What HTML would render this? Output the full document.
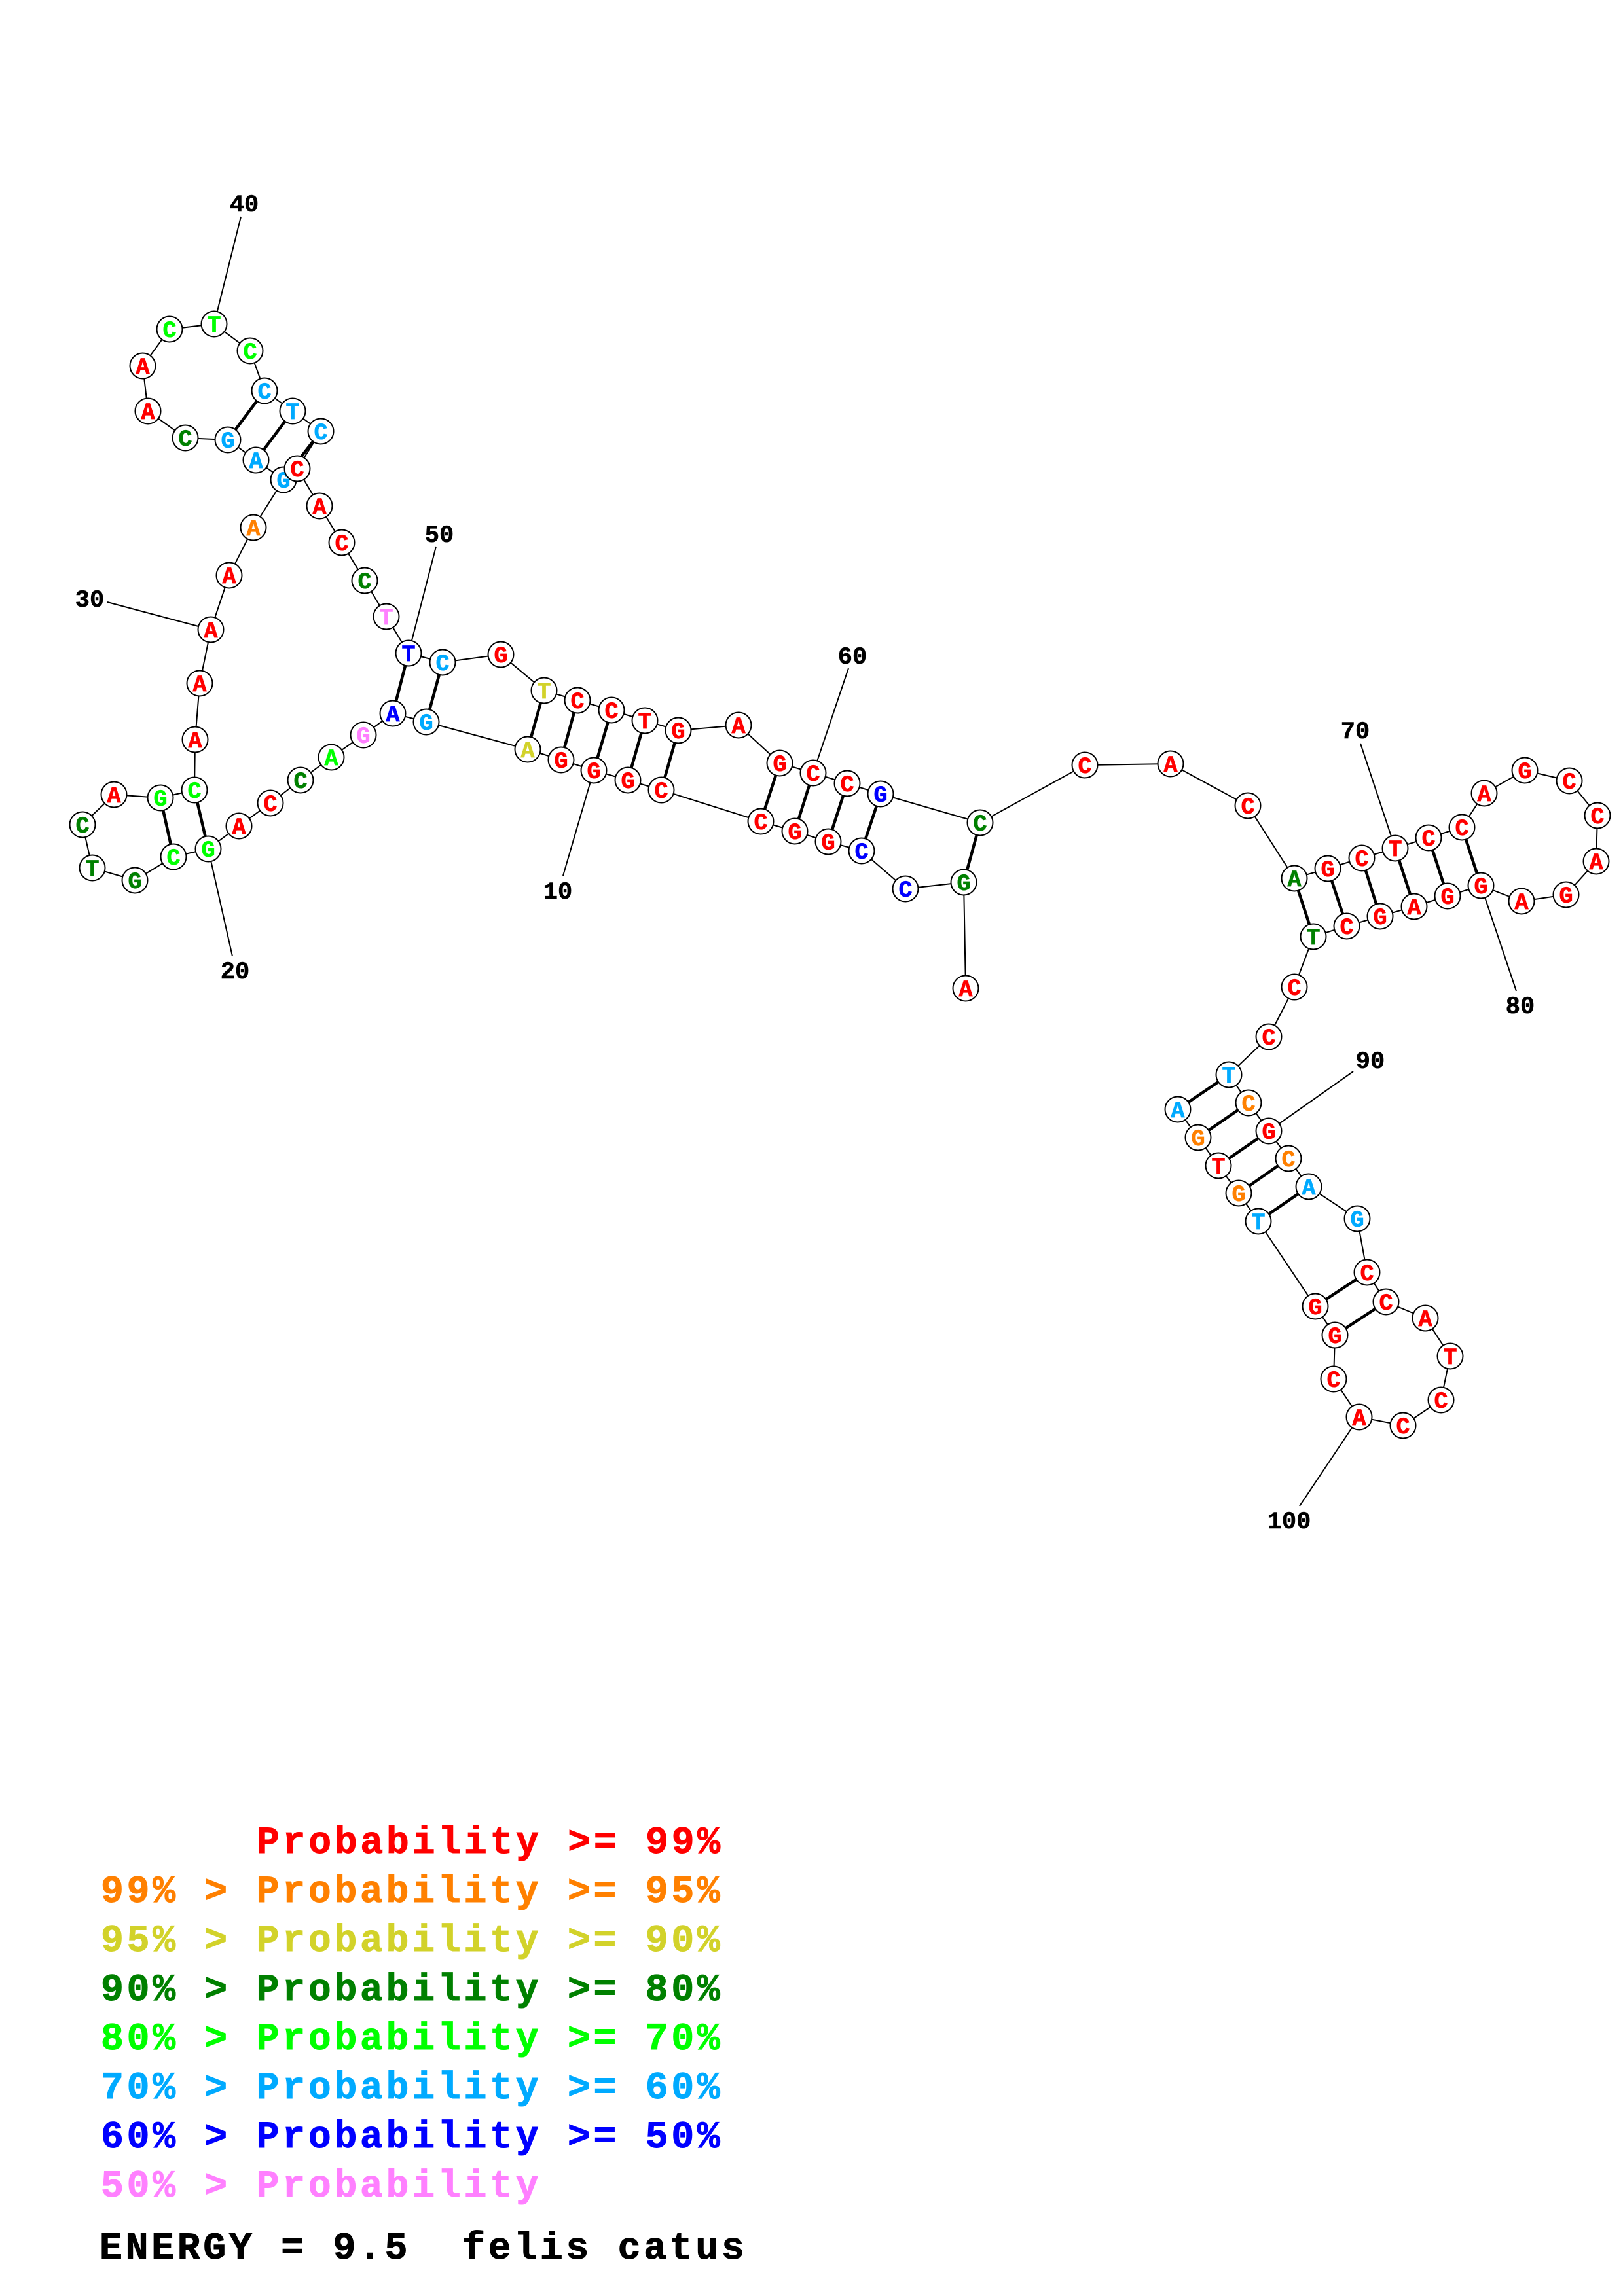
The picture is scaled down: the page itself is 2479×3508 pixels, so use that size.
<!DOCTYPE html>
<html>
<head>
<meta charset="utf-8">
<style>
html,body{margin:0;padding:0;background:#fff;}
svg{display:block;}
.n{font-family:"Liberation Mono",monospace;font-weight:bold;font-size:35px;text-anchor:middle;stroke-width:0.7px;}
.l{font-family:"Liberation Mono",monospace;font-weight:bold;font-size:37px;text-anchor:middle;fill:#000;stroke:#000;stroke-width:0.6px;}
.g{font-family:"Liberation Mono",monospace;font-weight:bold;font-size:58px;letter-spacing:4.8px;stroke-width:1px;}
.r{fill:#ff0000;stroke:#ff0000}.o{fill:#ff8000;stroke:#ff8000}.y{fill:#d2d22a;stroke:#d2d22a}.dg{fill:#008000;stroke:#008000}.gr{fill:#00ff00;stroke:#00ff00}.lb{fill:#00aaff;stroke:#00aaff}.b{fill:#0000ff;stroke:#0000ff}.p{fill:#ff80ff;stroke:#ff80ff}.k{fill:#000;stroke:#000}
</style>
</head>
<body>
<svg width="2479" height="3508" viewBox="0 0 2479 3508" xmlns="http://www.w3.org/2000/svg">
<rect width="2479" height="3508" fill="#fff"/>
<g stroke="#000" stroke-width="2" fill="none">
<line x1="907" y1="1177" x2="860" y2="1338"/>
<line x1="318" y1="1297" x2="355" y2="1461"/>
<line x1="164" y1="920" x2="322" y2="962"/>
<line x1="368" y1="331" x2="327" y2="495"/>
<line x1="666" y1="835" x2="624" y2="998"/>
<line x1="1296" y1="1021" x2="1242" y2="1181"/>
<line x1="2078" y1="1136" x2="2131" y2="1296"/>
<line x1="2262" y1="1353" x2="2316" y2="1514"/>
<line x1="2067" y1="1637" x2="1938" y2="1728"/>
<line x1="2076" y1="2165" x2="1985" y2="2301"/>
<polyline points="1475,1510 1472,1348 1383,1358 1316,1300 1265,1286 1214,1270 1162,1255 1010,1207 959,1192 907,1177 857,1161 806,1145 651,1103 600,1090 555,1123 506,1157 459,1192 413,1227 365,1262 318,1297 265,1309 206,1345 141,1326 126,1260 174,1214 245,1219 297,1207 298,1130 305,1044 322,962 350,879 387,806 433,733 391,703 348,672 283,669 226,628 218,559 259,503 327,495 382,536 404,597 447,628 490,659 454,716 488,773 522,829 557,887 590,942 624,998 676,1012 765,1000 831,1055 882,1070 934,1085 985,1101 1036,1116 1128,1108 1191,1166 1242,1181 1294,1197 1345,1213 1497,1257 1657,1169 1788,1167 1906,1231 1977,1342 2028,1327 2080,1311 2131,1296 2182,1280 2233,1264 2267,1212 2329,1177 2397,1193 2440,1246 2438,1316 2392,1367 2324,1377 2262,1353 2211,1369 2160,1385 2108,1400 2057,1415 2006,1431 1977,1508 1938,1584 1877,1642 1907,1685 1938,1728 1968,1770 1999,1813 2073,1862 2088,1944 2117,1989 2177,2014 2215,2072 2201,2139 2143,2178 2076,2165 2037,2107 2039,2040 2009,1996 1922,1866 1892,1823 1861,1781 1830,1738 1799,1695"/>
</g>
<g stroke="#000" stroke-width="4.5">
<line x1="1472" y1="1348" x2="1497" y2="1257"/>
<line x1="1316" y1="1300" x2="1345" y2="1213"/>
<line x1="1265" y1="1286" x2="1294" y2="1197"/>
<line x1="1214" y1="1270" x2="1242" y2="1181"/>
<line x1="1162" y1="1255" x2="1191" y2="1166"/>
<line x1="1010" y1="1207" x2="1036" y2="1116"/>
<line x1="959" y1="1192" x2="985" y2="1101"/>
<line x1="907" y1="1177" x2="934" y2="1085"/>
<line x1="857" y1="1161" x2="882" y2="1070"/>
<line x1="806" y1="1145" x2="831" y2="1055"/>
<line x1="651" y1="1103" x2="676" y2="1012"/>
<line x1="600" y1="1090" x2="624" y2="998"/>
<line x1="318" y1="1297" x2="297" y2="1207"/>
<line x1="265" y1="1309" x2="245" y2="1219"/>
<line x1="433" y1="733" x2="490" y2="659"/>
<line x1="391" y1="703" x2="447" y2="628"/>
<line x1="348" y1="672" x2="404" y2="597"/>
<line x1="1977" y1="1342" x2="2006" y2="1431"/>
<line x1="2028" y1="1327" x2="2057" y2="1415"/>
<line x1="2080" y1="1311" x2="2108" y2="1400"/>
<line x1="2131" y1="1296" x2="2160" y2="1385"/>
<line x1="2182" y1="1280" x2="2211" y2="1369"/>
<line x1="2233" y1="1264" x2="2262" y2="1353"/>
<line x1="1877" y1="1642" x2="1799" y2="1695"/>
<line x1="1907" y1="1685" x2="1830" y2="1738"/>
<line x1="1938" y1="1728" x2="1861" y2="1781"/>
<line x1="1968" y1="1770" x2="1892" y2="1823"/>
<line x1="1999" y1="1813" x2="1922" y2="1866"/>
<line x1="2088" y1="1944" x2="2009" y2="1996"/>
<line x1="2117" y1="1989" x2="2039" y2="2040"/>
</g>
<g class="l">
<text x="852" y="1373">10</text>
<text x="359" y="1495">20</text>
<text x="137" y="927">30</text>
<text x="373" y="323">40</text>
<text x="671" y="828">50</text>
<text x="1302" y="1014">60</text>
<text x="2070" y="1128">70</text>
<text x="2322" y="1548">80</text>
<text x="2093" y="1632">90</text>
<text x="1969" y="2335">100</text>
</g>
<g class="n">
<g><circle cx="1475" cy="1510" r="19.5" fill="#fff" stroke="#000" stroke-width="2"/><text x="1475" y="1522" class="r">A</text></g>
<g><circle cx="1472" cy="1348" r="19.5" fill="#fff" stroke="#000" stroke-width="2"/><text x="1472" y="1360" class="dg">G</text></g>
<g><circle cx="1383" cy="1358" r="19.5" fill="#fff" stroke="#000" stroke-width="2"/><text x="1383" y="1370" class="b">C</text></g>
<g><circle cx="1316" cy="1300" r="19.5" fill="#fff" stroke="#000" stroke-width="2"/><text x="1316" y="1312" class="b">C</text></g>
<g><circle cx="1265" cy="1286" r="19.5" fill="#fff" stroke="#000" stroke-width="2"/><text x="1265" y="1298" class="r">G</text></g>
<g><circle cx="1214" cy="1270" r="19.5" fill="#fff" stroke="#000" stroke-width="2"/><text x="1214" y="1282" class="r">G</text></g>
<g><circle cx="1162" cy="1255" r="19.5" fill="#fff" stroke="#000" stroke-width="2"/><text x="1162" y="1267" class="r">C</text></g>
<g><circle cx="1010" cy="1207" r="19.5" fill="#fff" stroke="#000" stroke-width="2"/><text x="1010" y="1219" class="r">C</text></g>
<g><circle cx="959" cy="1192" r="19.5" fill="#fff" stroke="#000" stroke-width="2"/><text x="959" y="1204" class="r">G</text></g>
<g><circle cx="907" cy="1177" r="19.5" fill="#fff" stroke="#000" stroke-width="2"/><text x="907" y="1189" class="r">G</text></g>
<g><circle cx="857" cy="1161" r="19.5" fill="#fff" stroke="#000" stroke-width="2"/><text x="857" y="1173" class="r">G</text></g>
<g><circle cx="806" cy="1145" r="19.5" fill="#fff" stroke="#000" stroke-width="2"/><text x="806" y="1157" class="y">A</text></g>
<g><circle cx="651" cy="1103" r="19.5" fill="#fff" stroke="#000" stroke-width="2"/><text x="651" y="1115" class="lb">G</text></g>
<g><circle cx="600" cy="1090" r="19.5" fill="#fff" stroke="#000" stroke-width="2"/><text x="600" y="1102" class="b">A</text></g>
<g><circle cx="555" cy="1123" r="19.5" fill="#fff" stroke="#000" stroke-width="2"/><text x="555" y="1135" class="p">G</text></g>
<g><circle cx="506" cy="1157" r="19.5" fill="#fff" stroke="#000" stroke-width="2"/><text x="506" y="1169" class="gr">A</text></g>
<g><circle cx="459" cy="1192" r="19.5" fill="#fff" stroke="#000" stroke-width="2"/><text x="459" y="1204" class="dg">C</text></g>
<g><circle cx="413" cy="1227" r="19.5" fill="#fff" stroke="#000" stroke-width="2"/><text x="413" y="1239" class="r">C</text></g>
<g><circle cx="365" cy="1262" r="19.5" fill="#fff" stroke="#000" stroke-width="2"/><text x="365" y="1274" class="r">A</text></g>
<g><circle cx="318" cy="1297" r="19.5" fill="#fff" stroke="#000" stroke-width="2"/><text x="318" y="1309" class="gr">G</text></g>
<g><circle cx="265" cy="1309" r="19.5" fill="#fff" stroke="#000" stroke-width="2"/><text x="265" y="1321" class="gr">C</text></g>
<g><circle cx="206" cy="1345" r="19.5" fill="#fff" stroke="#000" stroke-width="2"/><text x="206" y="1357" class="dg">G</text></g>
<g><circle cx="141" cy="1326" r="19.5" fill="#fff" stroke="#000" stroke-width="2"/><text x="141" y="1338" class="dg">T</text></g>
<g><circle cx="126" cy="1260" r="19.5" fill="#fff" stroke="#000" stroke-width="2"/><text x="126" y="1272" class="dg">C</text></g>
<g><circle cx="174" cy="1214" r="19.5" fill="#fff" stroke="#000" stroke-width="2"/><text x="174" y="1226" class="r">A</text></g>
<g><circle cx="245" cy="1219" r="19.5" fill="#fff" stroke="#000" stroke-width="2"/><text x="245" y="1231" class="gr">G</text></g>
<g><circle cx="297" cy="1207" r="19.5" fill="#fff" stroke="#000" stroke-width="2"/><text x="297" y="1219" class="gr">C</text></g>
<g><circle cx="298" cy="1130" r="19.5" fill="#fff" stroke="#000" stroke-width="2"/><text x="298" y="1142" class="r">A</text></g>
<g><circle cx="305" cy="1044" r="19.5" fill="#fff" stroke="#000" stroke-width="2"/><text x="305" y="1056" class="r">A</text></g>
<g><circle cx="322" cy="962" r="19.5" fill="#fff" stroke="#000" stroke-width="2"/><text x="322" y="974" class="r">A</text></g>
<g><circle cx="350" cy="879" r="19.5" fill="#fff" stroke="#000" stroke-width="2"/><text x="350" y="891" class="r">A</text></g>
<g><circle cx="387" cy="806" r="19.5" fill="#fff" stroke="#000" stroke-width="2"/><text x="387" y="818" class="o">A</text></g>
<g><circle cx="433" cy="733" r="19.5" fill="#fff" stroke="#000" stroke-width="2"/><text x="433" y="745" class="lb">G</text></g>
<g><circle cx="391" cy="703" r="19.5" fill="#fff" stroke="#000" stroke-width="2"/><text x="391" y="715" class="lb">A</text></g>
<g><circle cx="348" cy="672" r="19.5" fill="#fff" stroke="#000" stroke-width="2"/><text x="348" y="684" class="lb">G</text></g>
<g><circle cx="283" cy="669" r="19.5" fill="#fff" stroke="#000" stroke-width="2"/><text x="283" y="681" class="dg">C</text></g>
<g><circle cx="226" cy="628" r="19.5" fill="#fff" stroke="#000" stroke-width="2"/><text x="226" y="640" class="r">A</text></g>
<g><circle cx="218" cy="559" r="19.5" fill="#fff" stroke="#000" stroke-width="2"/><text x="218" y="571" class="r">A</text></g>
<g><circle cx="259" cy="503" r="19.5" fill="#fff" stroke="#000" stroke-width="2"/><text x="259" y="515" class="gr">C</text></g>
<g><circle cx="327" cy="495" r="19.5" fill="#fff" stroke="#000" stroke-width="2"/><text x="327" y="507" class="gr">T</text></g>
<g><circle cx="382" cy="536" r="19.5" fill="#fff" stroke="#000" stroke-width="2"/><text x="382" y="548" class="gr">C</text></g>
<g><circle cx="404" cy="597" r="19.5" fill="#fff" stroke="#000" stroke-width="2"/><text x="404" y="609" class="lb">C</text></g>
<g><circle cx="447" cy="628" r="19.5" fill="#fff" stroke="#000" stroke-width="2"/><text x="447" y="640" class="lb">T</text></g>
<g><circle cx="490" cy="659" r="19.5" fill="#fff" stroke="#000" stroke-width="2"/><text x="490" y="671" class="lb">C</text></g>
<g><circle cx="454" cy="716" r="19.5" fill="#fff" stroke="#000" stroke-width="2"/><text x="454" y="728" class="r">C</text></g>
<g><circle cx="488" cy="773" r="19.5" fill="#fff" stroke="#000" stroke-width="2"/><text x="488" y="785" class="r">A</text></g>
<g><circle cx="522" cy="829" r="19.5" fill="#fff" stroke="#000" stroke-width="2"/><text x="522" y="841" class="r">C</text></g>
<g><circle cx="557" cy="887" r="19.5" fill="#fff" stroke="#000" stroke-width="2"/><text x="557" y="899" class="dg">C</text></g>
<g><circle cx="590" cy="942" r="19.5" fill="#fff" stroke="#000" stroke-width="2"/><text x="590" y="954" class="p">T</text></g>
<g><circle cx="624" cy="998" r="19.5" fill="#fff" stroke="#000" stroke-width="2"/><text x="624" y="1010" class="b">T</text></g>
<g><circle cx="676" cy="1012" r="19.5" fill="#fff" stroke="#000" stroke-width="2"/><text x="676" y="1024" class="lb">C</text></g>
<g><circle cx="765" cy="1000" r="19.5" fill="#fff" stroke="#000" stroke-width="2"/><text x="765" y="1012" class="r">G</text></g>
<g><circle cx="831" cy="1055" r="19.5" fill="#fff" stroke="#000" stroke-width="2"/><text x="831" y="1067" class="y">T</text></g>
<g><circle cx="882" cy="1070" r="19.5" fill="#fff" stroke="#000" stroke-width="2"/><text x="882" y="1082" class="r">C</text></g>
<g><circle cx="934" cy="1085" r="19.5" fill="#fff" stroke="#000" stroke-width="2"/><text x="934" y="1097" class="r">C</text></g>
<g><circle cx="985" cy="1101" r="19.5" fill="#fff" stroke="#000" stroke-width="2"/><text x="985" y="1113" class="r">T</text></g>
<g><circle cx="1036" cy="1116" r="19.5" fill="#fff" stroke="#000" stroke-width="2"/><text x="1036" y="1128" class="r">G</text></g>
<g><circle cx="1128" cy="1108" r="19.5" fill="#fff" stroke="#000" stroke-width="2"/><text x="1128" y="1120" class="r">A</text></g>
<g><circle cx="1191" cy="1166" r="19.5" fill="#fff" stroke="#000" stroke-width="2"/><text x="1191" y="1178" class="r">G</text></g>
<g><circle cx="1242" cy="1181" r="19.5" fill="#fff" stroke="#000" stroke-width="2"/><text x="1242" y="1193" class="r">C</text></g>
<g><circle cx="1294" cy="1197" r="19.5" fill="#fff" stroke="#000" stroke-width="2"/><text x="1294" y="1209" class="r">C</text></g>
<g><circle cx="1345" cy="1213" r="19.5" fill="#fff" stroke="#000" stroke-width="2"/><text x="1345" y="1225" class="b">G</text></g>
<g><circle cx="1497" cy="1257" r="19.5" fill="#fff" stroke="#000" stroke-width="2"/><text x="1497" y="1269" class="dg">C</text></g>
<g><circle cx="1657" cy="1169" r="19.5" fill="#fff" stroke="#000" stroke-width="2"/><text x="1657" y="1181" class="r">C</text></g>
<g><circle cx="1788" cy="1167" r="19.5" fill="#fff" stroke="#000" stroke-width="2"/><text x="1788" y="1179" class="r">A</text></g>
<g><circle cx="1906" cy="1231" r="19.5" fill="#fff" stroke="#000" stroke-width="2"/><text x="1906" y="1243" class="r">C</text></g>
<g><circle cx="1977" cy="1342" r="19.5" fill="#fff" stroke="#000" stroke-width="2"/><text x="1977" y="1354" class="dg">A</text></g>
<g><circle cx="2028" cy="1327" r="19.5" fill="#fff" stroke="#000" stroke-width="2"/><text x="2028" y="1339" class="r">G</text></g>
<g><circle cx="2080" cy="1311" r="19.5" fill="#fff" stroke="#000" stroke-width="2"/><text x="2080" y="1323" class="r">C</text></g>
<g><circle cx="2131" cy="1296" r="19.5" fill="#fff" stroke="#000" stroke-width="2"/><text x="2131" y="1308" class="r">T</text></g>
<g><circle cx="2182" cy="1280" r="19.5" fill="#fff" stroke="#000" stroke-width="2"/><text x="2182" y="1292" class="r">C</text></g>
<g><circle cx="2233" cy="1264" r="19.5" fill="#fff" stroke="#000" stroke-width="2"/><text x="2233" y="1276" class="r">C</text></g>
<g><circle cx="2267" cy="1212" r="19.5" fill="#fff" stroke="#000" stroke-width="2"/><text x="2267" y="1224" class="r">A</text></g>
<g><circle cx="2329" cy="1177" r="19.5" fill="#fff" stroke="#000" stroke-width="2"/><text x="2329" y="1189" class="r">G</text></g>
<g><circle cx="2397" cy="1193" r="19.5" fill="#fff" stroke="#000" stroke-width="2"/><text x="2397" y="1205" class="r">C</text></g>
<g><circle cx="2440" cy="1246" r="19.5" fill="#fff" stroke="#000" stroke-width="2"/><text x="2440" y="1258" class="r">C</text></g>
<g><circle cx="2438" cy="1316" r="19.5" fill="#fff" stroke="#000" stroke-width="2"/><text x="2438" y="1328" class="r">A</text></g>
<g><circle cx="2392" cy="1367" r="19.5" fill="#fff" stroke="#000" stroke-width="2"/><text x="2392" y="1379" class="r">G</text></g>
<g><circle cx="2324" cy="1377" r="19.5" fill="#fff" stroke="#000" stroke-width="2"/><text x="2324" y="1389" class="r">A</text></g>
<g><circle cx="2262" cy="1353" r="19.5" fill="#fff" stroke="#000" stroke-width="2"/><text x="2262" y="1365" class="r">G</text></g>
<g><circle cx="2211" cy="1369" r="19.5" fill="#fff" stroke="#000" stroke-width="2"/><text x="2211" y="1381" class="r">G</text></g>
<g><circle cx="2160" cy="1385" r="19.5" fill="#fff" stroke="#000" stroke-width="2"/><text x="2160" y="1397" class="r">A</text></g>
<g><circle cx="2108" cy="1400" r="19.5" fill="#fff" stroke="#000" stroke-width="2"/><text x="2108" y="1412" class="r">G</text></g>
<g><circle cx="2057" cy="1415" r="19.5" fill="#fff" stroke="#000" stroke-width="2"/><text x="2057" y="1427" class="r">C</text></g>
<g><circle cx="2006" cy="1431" r="19.5" fill="#fff" stroke="#000" stroke-width="2"/><text x="2006" y="1443" class="dg">T</text></g>
<g><circle cx="1977" cy="1508" r="19.5" fill="#fff" stroke="#000" stroke-width="2"/><text x="1977" y="1520" class="r">C</text></g>
<g><circle cx="1938" cy="1584" r="19.5" fill="#fff" stroke="#000" stroke-width="2"/><text x="1938" y="1596" class="r">C</text></g>
<g><circle cx="1877" cy="1642" r="19.5" fill="#fff" stroke="#000" stroke-width="2"/><text x="1877" y="1654" class="lb">T</text></g>
<g><circle cx="1907" cy="1685" r="19.5" fill="#fff" stroke="#000" stroke-width="2"/><text x="1907" y="1697" class="o">C</text></g>
<g><circle cx="1938" cy="1728" r="19.5" fill="#fff" stroke="#000" stroke-width="2"/><text x="1938" y="1740" class="r">G</text></g>
<g><circle cx="1968" cy="1770" r="19.5" fill="#fff" stroke="#000" stroke-width="2"/><text x="1968" y="1782" class="o">C</text></g>
<g><circle cx="1999" cy="1813" r="19.5" fill="#fff" stroke="#000" stroke-width="2"/><text x="1999" y="1825" class="lb">A</text></g>
<g><circle cx="2073" cy="1862" r="19.5" fill="#fff" stroke="#000" stroke-width="2"/><text x="2073" y="1874" class="lb">G</text></g>
<g><circle cx="2088" cy="1944" r="19.5" fill="#fff" stroke="#000" stroke-width="2"/><text x="2088" y="1956" class="r">C</text></g>
<g><circle cx="2117" cy="1989" r="19.5" fill="#fff" stroke="#000" stroke-width="2"/><text x="2117" y="2001" class="r">C</text></g>
<g><circle cx="2177" cy="2014" r="19.5" fill="#fff" stroke="#000" stroke-width="2"/><text x="2177" y="2026" class="r">A</text></g>
<g><circle cx="2215" cy="2072" r="19.5" fill="#fff" stroke="#000" stroke-width="2"/><text x="2215" y="2084" class="r">T</text></g>
<g><circle cx="2201" cy="2139" r="19.5" fill="#fff" stroke="#000" stroke-width="2"/><text x="2201" y="2151" class="r">C</text></g>
<g><circle cx="2143" cy="2178" r="19.5" fill="#fff" stroke="#000" stroke-width="2"/><text x="2143" y="2190" class="r">C</text></g>
<g><circle cx="2076" cy="2165" r="19.5" fill="#fff" stroke="#000" stroke-width="2"/><text x="2076" y="2177" class="r">A</text></g>
<g><circle cx="2037" cy="2107" r="19.5" fill="#fff" stroke="#000" stroke-width="2"/><text x="2037" y="2119" class="r">C</text></g>
<g><circle cx="2039" cy="2040" r="19.5" fill="#fff" stroke="#000" stroke-width="2"/><text x="2039" y="2052" class="r">G</text></g>
<g><circle cx="2009" cy="1996" r="19.5" fill="#fff" stroke="#000" stroke-width="2"/><text x="2009" y="2008" class="r">G</text></g>
<g><circle cx="1922" cy="1866" r="19.5" fill="#fff" stroke="#000" stroke-width="2"/><text x="1922" y="1878" class="lb">T</text></g>
<g><circle cx="1892" cy="1823" r="19.5" fill="#fff" stroke="#000" stroke-width="2"/><text x="1892" y="1835" class="o">G</text></g>
<g><circle cx="1861" cy="1781" r="19.5" fill="#fff" stroke="#000" stroke-width="2"/><text x="1861" y="1793" class="r">T</text></g>
<g><circle cx="1830" cy="1738" r="19.5" fill="#fff" stroke="#000" stroke-width="2"/><text x="1830" y="1750" class="o">G</text></g>
<g><circle cx="1799" cy="1695" r="19.5" fill="#fff" stroke="#000" stroke-width="2"/><text x="1799" y="1707" class="lb">A</text></g>
</g>
<g class="g">
<text x="392" y="2831" class="r">Probability &gt;= 99%</text>
<text x="154" y="2906" class="o">99% &gt; Probability &gt;= 95%</text>
<text x="154" y="2981" class="y">95% &gt; Probability &gt;= 90%</text>
<text x="154" y="3056" class="dg">90% &gt; Probability &gt;= 80%</text>
<text x="154" y="3131" class="gr">80% &gt; Probability &gt;= 70%</text>
<text x="154" y="3206" class="lb">70% &gt; Probability &gt;= 60%</text>
<text x="154" y="3281" class="b">60% &gt; Probability &gt;= 50%</text>
<text x="154" y="3356" class="p">50% &gt; Probability</text>
<text x="152" y="3451" class="k">ENERGY = 9.5</text>
<text x="706" y="3451" class="k">felis catus</text>
</g>
</svg>
</body>
</html>
